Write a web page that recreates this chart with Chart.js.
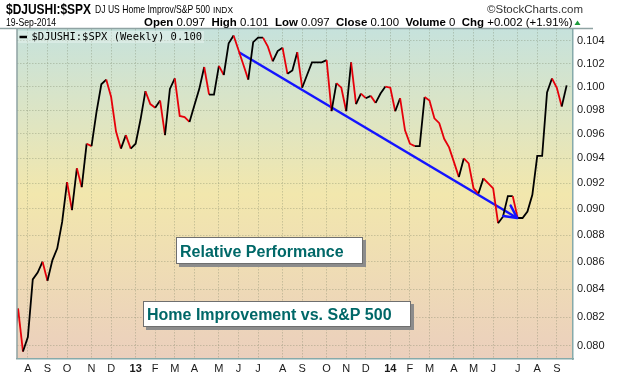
<!DOCTYPE html>
<html>
<head>
<meta charset="utf-8">
<script src="https://cdn.jsdelivr.net/npm/chart.js@4.4.0/dist/chart.umd.min.js"></script>
<style>
  html, body { margin: 0; padding: 0; background: #fff; }
  #wrap { width: 620px; height: 376px; }
</style>
</head>
<body>
<div id="wrap"><canvas id="chart" width="620" height="376"></canvas></div>
<script>
// weekly bars, week starting Monday
const firstWeek = '2012-07-16';

// $DJUSHI:$SPX weekly close
const ratio = [
  0.0795, 0.0826, 0.0796, 0.0806, 0.0847, 0.0852, 0.0860, 0.0846, 0.0861, 0.0870,
  0.0890, 0.0921, 0.0899, 0.0932, 0.0917, 0.0952, 0.0950, 0.0978, 0.1002, 0.1006,
  0.0991, 0.0962, 0.0948, 0.0959, 0.0948, 0.0952, 0.0972, 0.0996, 0.0985, 0.0982,
  0.0988, 0.0959, 0.0998, 0.1007, 0.0975, 0.0974, 0.0970, 0.0984, 0.0998, 0.1017,
  0.0993, 0.0993, 0.1018, 0.1010, 0.1038, 0.1045, 0.1032, 0.1019, 0.1006, 0.1039,
  0.1043, 0.1043, 0.1035, 0.1022, 0.1031, 0.1034, 0.1011, 0.1014, 0.1030, 0.0999,
  0.1010, 0.1021, 0.1021, 0.1021, 0.1023, 0.0979, 0.1003, 0.0999, 0.0979, 0.1021,
  0.0985, 0.0994, 0.0990, 0.0992, 0.0986, 0.0994, 0.1000, 0.0999, 0.0979, 0.0990,
  0.0963, 0.0952, 0.0950, 0.0950, 0.0991, 0.0988, 0.0973, 0.0969, 0.0956, 0.0949,
  0.0937, 0.0925, 0.0940, 0.0936, 0.0916, 0.0912, 0.0924, 0.0920, 0.0916, 0.0889,
  0.0894, 0.0910, 0.0910, 0.0893, 0.0893, 0.0898, 0.0911, 0.0942, 0.0942, 0.0995,
  0.1007, 0.0999, 0.0983, 0.1001
];

const yTickValues = [0.080, 0.082, 0.084, 0.086, 0.088, 0.090, 0.092, 0.094, 0.096, 0.098, 0.100, 0.102, 0.104];
const monthLetters = ['J', 'F', 'M', 'A', 'M', 'J', 'J', 'A', 'S', 'O', 'N', 'D'];

// hand drawn trend arrow (week index, value)
const trendX = [46.1, 102.9];
const trendY = [0.1030, 0.0893];

// month ticks at the first weekly bar of each month
const weeks = ratio.map((v, i) => {
  const d = new Date(firstWeek + 'T00:00:00Z');
  d.setUTCDate(d.getUTCDate() + 7 * i);
  return d;
});
const monthTicks = [];
weeks.forEach((d, i) => {
  if (i === 0 || d.getUTCMonth() === weeks[i - 1].getUTCMonth()) return;
  const m = d.getUTCMonth();
  monthTicks.push({
    value: i,
    label: m === 0 ? String(d.getUTCFullYear()).slice(2) : monthLetters[m],
    year: m === 0
  });
});

const SANS = "'Liberation Sans', Arial, sans-serif";

function fitText(ctx, text, x, y, font, width, color) {
  ctx.save();
  ctx.font = font;
  ctx.fillStyle = color || '#000';
  ctx.textBaseline = 'alphabetic';
  const w = ctx.measureText(text).width;
  ctx.translate(x, y);
  ctx.scale(width / w, 1);
  ctx.fillText(text, 0, 0);
  ctx.restore();
}

const background = {
  id: 'background',
  beforeDraw(chart) {
    const { ctx, chartArea: a } = chart;
    ctx.save();
    ctx.fillStyle = '#fff';
    ctx.fillRect(0, 0, chart.width, chart.height);
    const g = ctx.createLinearGradient(0, a.top, 0, a.bottom);
    g.addColorStop(0, '#c6e2dc');
    g.addColorStop(0.5, '#f2e7ad');
    g.addColorStop(1, '#ebcfbd');
    ctx.fillStyle = g;
    ctx.fillRect(a.left, a.top, a.right - a.left, a.bottom - a.top);
    ctx.restore();
  }
};

function noteBox(ctx, text, x, y, w, h, tx, ty) {
  ctx.fillStyle = '#8c8c8c';
  ctx.fillRect(x + 3, y + 3, w, h);
  ctx.fillStyle = '#fff';
  ctx.fillRect(x, y, w, h);
  ctx.strokeStyle = '#6f6f6f';
  ctx.lineWidth = 1;
  ctx.strokeRect(x + 0.5, y + 0.5, w - 1, h - 1);
  ctx.fillStyle = '#006868';
  ctx.font = 'bold 16px ' + SANS;
  ctx.textBaseline = 'alphabetic';
  ctx.fillText(text, tx, ty);
}

const decor = {
  id: 'decor',
  afterDraw(chart) {
    const { ctx, chartArea: a } = chart;
    ctx.save();

    // header
    fitText(ctx, '$DJUSHI:$SPX', 6, 13.5, 'bold 14.5px ' + SANS, 85);
    fitText(ctx, 'DJ US Home Improv/S&P 500', 95, 13, '10.5px ' + SANS, 115);
    fitText(ctx, 'INDX', 213, 13, '8.5px ' + SANS, 20);
    fitText(ctx, '\u00A9StockCharts.com', 487, 13, '10.5px ' + SANS, 96, '#333');
    fitText(ctx, '19-Sep-2014', 6, 26, '10.5px ' + SANS, 50);

    const parts = [
      ['Open', 1], [' 0.097  ', 0], ['High', 1], [' 0.101  ', 0], ['Low', 1], [' 0.097  ', 0],
      ['Close', 1], [' 0.100  ', 0], ['Volume', 1], [' 0  ', 0], ['Chg', 1], [' +0.002 (+1.91%)', 0]
    ];
    const fonts = ['10.5px ' + SANS, 'bold 10.5px ' + SANS];
    let total = 0;
    parts.forEach(p => { ctx.font = fonts[p[1]]; total += ctx.measureText(p[0]).width; });
    const k = (572.5 - 144) / total;
    let px = 144;
    parts.forEach(p => {
      ctx.font = fonts[p[1]];
      const w = ctx.measureText(p[0]).width * k;
      fitText(ctx, p[0], px, 26, fonts[p[1]], w);
      px += w;
    });
    ctx.fillStyle = '#1e9b3c';
    ctx.beginPath();
    ctx.moveTo(574.5, 25); ctx.lineTo(580.5, 25); ctx.lineTo(577.5, 20.5); ctx.closePath();
    ctx.fill();

    // header rule and left frame
    ctx.strokeStyle = '#8fa3a3';
    ctx.lineWidth = 1.5;
    ctx.beginPath();
    ctx.moveTo(0, 28.5); ctx.lineTo(593, 28.5);
    ctx.moveTo(a.left, a.top); ctx.lineTo(a.left, a.bottom);
    ctx.stroke();

    // legend
    ctx.fillStyle = 'rgba(255,255,255,0.3)';
    ctx.fillRect(a.left + 1, 31, 186, 12);
    ctx.strokeStyle = '#000';
    ctx.lineWidth = 2.5;
    ctx.beginPath();
    ctx.moveTo(19.5, 37); ctx.lineTo(27, 37);
    ctx.stroke();
    ctx.fillStyle = '#000';
    ctx.font = "10.5px 'DejaVu Sans Mono', monospace";
    ctx.textBaseline = 'middle';
    ctx.fillText('$DJUSHI:$SPX (Weekly) 0.100', 31.5, 37.5);

    // arrow head on the trend line
    const pts = chart.getDatasetMeta(1).data;
    const p0 = pts[0], p1 = pts[pts.length - 1];
    const ang = Math.atan2(p1.y - p0.y, p1.x - p0.x);
    ctx.strokeStyle = '#1414ff';
    ctx.lineWidth = 2.5;
    ctx.lineCap = 'round';
    ctx.beginPath();
    [0.55, -0.4].forEach(d => {
      ctx.moveTo(p1.x, p1.y);
      ctx.lineTo(p1.x - 14 * Math.cos(ang + d), p1.y - 14 * Math.sin(ang + d));
    });
    ctx.stroke();

    // notes
    noteBox(ctx, 'Relative Performance', 176, 237, 187, 27, 180, 257);
    noteBox(ctx, 'Home Improvement vs. S&P 500', 143, 301, 268, 26, 147, 320);

    ctx.restore();
  }
};

const gridColor = 'rgba(115,125,95,0.32)';

function isYearTick(c) {
  if (!c || !c.tick) return false;
  const t = monthTicks.find(m => m.value === c.tick.value);
  return !!(t && t.year);
}

new Chart(document.getElementById('chart').getContext('2d'), {
  type: 'line',
  data: {
    datasets: [{
      data: ratio.map((v, i) => ({ x: i, y: v })),
      borderColor: '#000',
      borderWidth: 1.8,
      pointRadius: 0,
      tension: 0,
      segment: {
        borderColor: c => c.p1.parsed.y < c.p0.parsed.y ? '#e6000a' : '#000'
      }
    }, {
      data: trendX.map((x, i) => ({ x: x, y: trendY[i] })),
      borderColor: '#1414ff',
      borderWidth: 2.5,
      pointRadius: 0
    }]
  },
  options: {
    responsive: false,
    animation: false,
    layout: { padding: { left: 17, top: 29, right: 0, bottom: 0 } },
    plugins: { legend: { display: false }, tooltip: { enabled: false } },
    scales: {
      x: {
        type: 'linear',
        min: 0.78,
        max: 114.3,
        afterBuildTicks: s => { s.ticks = monthTicks.map(t => ({ value: t.value })); },
        afterFit: s => { s.height = 17; },
        ticks: {
          autoSkip: false,
          maxRotation: 0,
          padding: 3,
          color: '#1a1a1a',
          callback: v => (monthTicks.find(t => t.value === v) || {}).label,
          font: c => ({ family: SANS, size: 11, weight: isYearTick(c) ? 'bold' : 'normal' })
        },
        grid: { color: gridColor, drawTicks: false },
        border: { color: '#86aaaa', width: 1.5, dash: [1.5, 1.5] }
      },
      y: {
        type: 'logarithmic',
        position: 'right',
        min: 0.07909,
        max: 0.10508,
        afterBuildTicks: s => { s.ticks = yTickValues.map(v => ({ value: v })); },
        afterFit: s => { s.width = 47; },
        ticks: {
          padding: 4,
          color: '#1a1a1a',
          font: { family: SANS, size: 11 },
          callback: v => Number(v).toFixed(3)
        },
        grid: { color: gridColor, drawTicks: false },
        border: { color: '#86aaaa', width: 1.5, dash: [1.5, 1.5] }
      }
    }
  },
  plugins: [background, decor]
});
</script>
</body>
</html>
